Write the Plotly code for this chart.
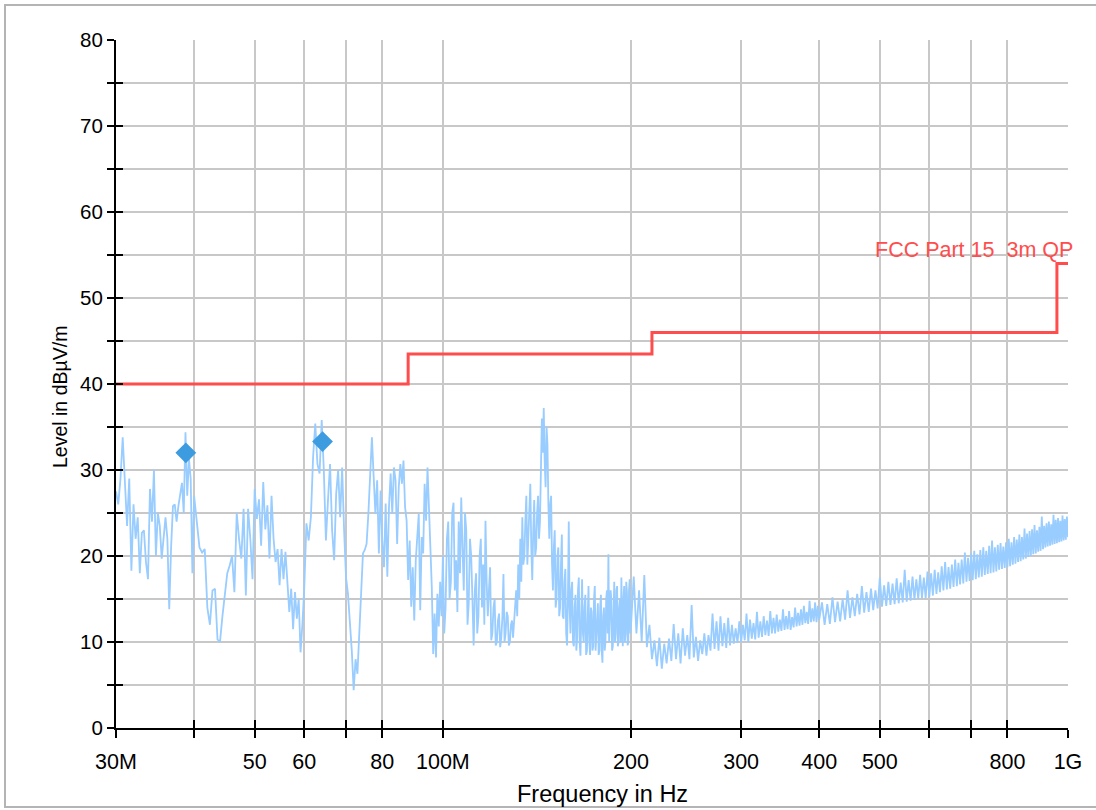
import math
import plotly.graph_objects as go

# ---------------- data ----------------
# measured trace, frequency in MHz, level in dBuV/m
SEG1_MHZ = [30.0, 30.25, 30.5, 30.75, 31.0, 31.25, 31.5, 31.75, 32.0, 32.25, 32.5, 32.75,
            33.0, 33.25, 33.5, 33.75, 34.0, 34.25, 34.5, 34.75, 35.0, 35.25, 35.5, 35.75,
            36.0, 36.25, 36.5, 36.75, 37.0, 37.25, 37.5, 37.75, 38.0, 38.25, 38.5, 38.75,
            39.0, 39.25, 39.5, 39.75, 40.0]
SEG1_DB = [27.5, 26, 29, 33.8, 28.6, 23.5, 29, 18.3, 26, 22, 24.5, 18,
           22.7, 23, 19.3, 17.3, 27.8, 24, 30, 20, 25, 23.5, 19.7, 22,
           24.5, 22, 13.8, 21, 25.8, 26, 24, 25.8, 27.4, 28.5, 25, 34.4,
           27, 31.3, 29, 18, 27]

SEG2_MHZ = [40.4, 40.8, 41.2, 41.6, 42.0, 42.4, 42.8, 43.2, 43.6, 44.0, 44.4, 44.8, 45.2,
            45.6, 46.0, 46.4, 46.8, 47.2, 47.6, 48.0, 48.4, 48.8, 49.2, 49.6, 50.0, 50.4,
            50.8, 51.2, 51.6, 52.0, 52.4, 52.8, 53.2, 53.6, 54.0, 54.4, 54.8, 55.2, 55.6,
            56.0, 56.4, 56.8, 57.2, 57.6, 58.0, 58.4, 58.8, 59.2, 59.6, 60.0]
SEG2_DB = [24, 21, 20.4, 20.8, 14, 12, 16, 16.2, 10.3, 10, 13, 15.8, 18,
           18.9, 20, 15.8, 25, 22, 19.7, 25.5, 15.4, 25.5, 22, 17.3, 27.8, 24.3,
           26.6, 21.2, 28.6, 23.1, 25.9, 19.7, 27, 22, 19.3, 20.8, 16.6, 20.8, 17.3,
           20.5, 16.6, 13.5, 16.2, 11.5, 15.8, 12.7, 15, 8.8, 12, 16]

SEG3_MHZ = [60.5, 61.0, 61.5, 62.0, 62.5, 63.0, 63.5, 64.0, 64.5, 65.0,
            65.5, 66.0, 66.5, 67.0, 67.5, 68.0, 68.5, 69.0, 69.5, 70.0,
            70.5, 71.0, 71.5, 72.0, 72.5, 73.0, 73.5, 74.0, 74.5, 75.0,
            75.5, 76.0, 76.5, 77.0, 77.5, 78.0, 78.5, 79.0, 79.5, 80.0,
            80.5, 81.0, 81.5, 82.0, 82.5, 83.0, 83.5, 84.0, 84.5, 85.0,
            85.5, 86.0, 86.5, 87.0, 87.5, 88.0, 88.5, 89.0, 89.5, 90.0,
            90.5, 91.0, 91.5, 92.0, 92.5, 93.0, 93.5, 94.0, 94.5, 95.0,
            95.5, 96.0, 96.5, 97.0, 97.5, 98.0, 98.5, 99.0, 99.5, 100.0]
SEG3_DB = [23.8, 21.8, 24.5, 31.5, 35.4, 30.7, 29.6, 35.8, 30, 21.8,
           26.5, 30.7, 23, 19.5, 27.2, 30, 24.5, 30.3, 23, 17.5,
           15.6, 12.5, 9, 4.4, 8, 6.3, 11.4, 16.4, 20.3, 20.7,
           21.4, 24.9, 28.8, 33.8, 29.2, 24.9, 28.8, 20.3, 27.6, 21.8,
           18.7, 26.1, 17.6, 25.7, 29.6, 24.9, 30.3, 28.8, 21.4, 28,
           30.7, 28.4, 31.1, 25.7, 24.1, 17.2, 21.8, 14.1, 18.7, 12.5,
           19.5, 22.6, 24.9, 13.7, 22.2, 20.3, 28.4, 24.1, 30.3, 25.7,
           21, 16.4, 8.6, 13.3, 8.2, 15.6, 11.8, 17, 13, 20]

SEG4_MHZ = [100.5, 101, 101.5, 102, 102.5, 103, 103.5, 104, 104.5, 105,
            105.5, 106, 106.5, 107, 107.5, 108, 108.5, 109, 109.5, 110,
            110.5, 111, 111.5, 112, 112.5, 113, 113.5, 114, 114.5, 115,
            115.5, 116, 116.5, 117, 117.5, 118, 118.5, 119, 119.5, 120,
            120.5, 121, 121.5, 122, 122.5, 123, 123.5, 124, 124.5, 125,
            125.5, 126, 126.5, 127, 127.5, 128, 128.5, 129, 129.5, 130,
            130.5, 131, 131.5, 132, 132.5, 133, 133.5, 134, 134.5, 135,
            135.5, 136, 136.5, 137, 137.5, 138, 138.5, 139, 139.5, 140,
            140.5, 141, 141.5, 142, 142.5, 143, 143.5, 144, 144.5, 145,
            145.5, 146, 146.5, 147, 147.5, 148, 148.5, 149, 149.5, 150,
            150.5, 151, 151.5, 152, 152.5, 153, 153.5, 154, 154.5, 155,
            155.5, 156, 156.5, 157, 157.5, 158, 158.5, 159, 159.5, 160,
            160.5, 161, 161.5, 162, 162.5, 163, 163.5, 164, 164.5, 165,
            165.5, 166, 166.5, 167, 167.5, 168, 168.5, 169, 169.5, 170,
            170.5, 171, 171.5, 172, 172.5, 173, 173.5, 174, 174.5, 175,
            175.5, 176, 176.5, 177, 177.5, 178, 178.5, 179, 179.5, 180,
            180.5, 181, 181.5, 182, 182.5, 183, 183.5, 184, 184.5, 185,
            185.5, 186, 186.5, 187, 187.5, 188, 188.5, 189, 189.5, 190,
            190.5, 191, 191.5, 192, 192.5, 193, 193.5, 194, 194.5, 195,
            195.5, 196, 196.5, 197, 197.5, 198, 198.5, 199, 199.5, 200]
SEG4_DB = [11, 14, 22, 24, 15, 17, 25, 26.2, 16, 19.5,
           13.5, 24, 18, 26.8, 21, 16, 25, 23, 12, 14.5,
           22, 20, 15, 9.6, 16, 18, 11, 13, 20, 22,
           14, 19, 12, 24.1, 17, 13, 16, 18.7, 10.2, 11,
           14, 15, 9.6, 10, 12.5, 13.3, 9.4, 10.5, 12.8, 17.9,
           10, 11, 13.5, 13, 9.6, 10, 12, 12.5, 10.5, 12,
           14, 16, 13, 19, 15, 22, 17, 24.5, 19, 20,
           24, 27, 19, 22, 26, 28.4, 21, 17.2, 23, 26.5,
           20, 21, 25, 27, 22, 24, 30, 36, 32, 37.2,
           31, 28, 35, 33, 26, 22, 26, 27, 19, 16,
           21, 23, 14, 15, 20, 21, 13, 14, 19, 22.5,
           13, 12.7, 17, 18.5, 11, 9.6, 15, 24, 14, 11,
           16, 17, 10, 9.5, 14, 15.5, 9, 10.5, 16, 17.5,
           10, 8.4, 13, 17.3, 11, 10, 14, 15.5, 8.5, 9,
           13, 16.5, 10, 8.5, 14, 13.5, 9, 9.5, 15, 16.5,
           9, 10.5, 13, 14.5, 8.5, 9, 14, 15.5, 9, 7.6,
           13, 14, 9, 10, 15, 16, 11, 20.2, 10, 12,
           16, 15, 9, 9.5, 14, 17, 10, 11, 16, 16.5,
           9.5, 10, 14, 15, 10, 17.5, 12, 9.5, 15, 16.5,
           10, 11, 17, 15.8, 9.6, 10, 16, 17.3, 11, 12]

SEG5_MHZ = [202, 204, 206, 208, 210, 212, 214, 216, 218, 220,
            222, 224, 226, 228, 230, 232, 234, 236, 238, 240,
            242, 244, 246, 248, 250, 252, 254, 256, 258, 260,
            262, 264, 266, 268, 270, 272, 274, 276, 278, 280,
            282, 284, 286, 288, 290, 292, 294, 296, 298, 300,
            302, 304, 306, 308, 310, 312, 314, 316, 318, 320,
            322, 324, 326, 328, 330, 332, 334, 336, 338, 340,
            342, 344, 346, 348, 350, 352, 354, 356, 358, 360,
            362, 364, 366, 368, 370, 372, 374, 376, 378, 380,
            382, 384, 386, 388, 390, 392, 394, 396, 398, 400]
SEG5_DB = [17.6, 11, 16, 10, 17.8, 9.4, 12, 8, 10.2, 7.2,
           10.5, 6.9, 9.8, 7.5, 10.4, 7.8, 12.1, 8, 11, 7.5,
           11.6, 8.4, 10.8, 8, 14.3, 8.2, 10.6, 7.8, 10.2, 8.6,
           11, 8.4, 10.8, 9, 13.3, 9.2, 12.4, 9, 13, 9.5,
           12.2, 9.3, 12.8, 9.6, 12, 9.8, 11.6, 9.9, 12.4, 10,
           12, 10.2, 13.3, 10, 12.6, 10.4, 12.2, 10.3, 13.5, 10.5,
           12.4, 10.6, 13, 10.8, 12.5, 10.7, 13.6, 11, 12.8, 11,
           13.2, 11.2, 12.6, 11.3, 13.8, 11.4, 13, 11.5, 13.6, 11.4,
           12.9, 11.7, 14, 11.8, 13.4, 11.9, 13.8, 12, 14.2, 12.2,
           13.5, 12.1, 14.8, 12.3, 13.9, 12.4, 14.6, 12.3, 14.2, 12.6]

SEG6_MHZ = [404, 408, 412, 416, 420, 424, 428, 432, 436, 440,
            444, 448, 452, 456, 460, 464, 468, 472, 476, 480,
            484, 488, 492, 496, 500, 504, 508, 512, 516, 520,
            524, 528, 532, 536, 540, 544, 548, 552, 556, 560,
            564, 568, 572, 576, 580, 584, 588, 592, 596, 600,
            604, 608, 612, 616, 620, 624, 628, 632, 636, 640,
            644, 648, 652, 656, 660, 664, 668, 672, 676, 680,
            684, 688, 692, 696, 700, 704, 708, 712, 716, 720,
            724, 728, 732, 736, 740, 744, 748, 752, 756, 760,
            764, 768, 772, 776, 780, 784, 788, 792, 796, 800,
            804, 808, 812, 816, 820, 824, 828, 832, 836, 840,
            844, 848, 852, 856, 860, 864, 868, 872, 876, 880,
            884, 888, 892, 896, 900, 904, 908, 912, 916, 920,
            924, 928, 932, 936, 940, 944, 948, 952, 956, 960,
            964, 968, 972, 976, 980, 984, 988, 992, 996, 1000]
SEG6_DB = [14.6, 12.0, 14.4, 12.1, 15.2, 12.3, 14.7, 12.4, 15.0, 12.6,
           16.0, 12.8, 15.2, 13.0, 15.6, 13.2, 16.5, 13.4, 15.8, 13.5,
           16.2, 13.7, 16.0, 13.9, 17.5, 14.1, 16.6, 14.2, 17.0, 14.3,
           16.8, 14.4, 17.4, 14.5, 16.9, 14.6, 18.4, 14.7, 17.2, 14.8,
           17.6, 14.9, 17.3, 15.0, 17.8, 15.1, 17.5, 15.1, 18.2, 15.2,
           18.0, 15.4, 18.4, 15.6, 18.1, 15.8, 18.8, 16.0, 19.3, 16.1,
           18.7, 16.2, 19.0, 16.4, 19.6, 16.5, 19.2, 16.7, 19.6, 16.8,
           20.4, 17.0, 19.8, 17.1, 20.3, 17.2, 20.6, 17.3, 20.2, 17.5,
           20.7, 17.6, 21.0, 17.8, 20.6, 17.9, 21.2, 18.0, 21.8, 18.1,
           21.0, 18.2, 21.3, 18.4, 21.5, 18.5, 21.1, 18.6, 21.6, 18.7,
           22.0, 18.8, 21.6, 19.0, 22.2, 19.1, 21.9, 19.3, 22.5, 19.4,
           22.2, 19.6, 23.2, 19.7, 22.6, 19.9, 22.9, 20.0, 23.1, 20.2,
           23.6, 20.3, 23.0, 20.5, 23.4, 20.6, 24.6, 20.8, 23.5, 21.0,
           23.8, 21.1, 24.0, 21.2, 23.7, 21.3, 24.8, 21.4, 24.2, 21.5,
           24.4, 21.6, 24.1, 21.7, 24.7, 21.8, 24.3, 21.9, 24.6, 22.2]

# limit line (FCC Part 15, 3 m, QP)
LIMIT_MHZ = [30, 88, 216, 960, 1000]
LIMIT_DB = [40, 43.5, 46, 54, 54]
LIMIT_NAME = "FCC Part 15\u00a0 3m QP"

# peak markers
PEAK_MHZ = [38.8, 64.2]
PEAK_DB = [32.0, 33.3]

# axis ticks
X_TICKS = [30, 40, 50, 60, 70, 80, 100, 200, 300, 400, 500, 600, 700, 800, 1000]
X_TICKTEXT = ["30M", "", "50", "60", "", "80", "100M", "200", "300", "400", "500", "", "", "800", "1G"]
Y_TICKS = [0, 5, 10, 15, 20, 25, 30, 35, 40, 45, 50, 55, 60, 65, 70, 75, 80]
Y_TICKTEXT = ["0", "", "10", "", "20", "", "30", "", "40", "", "50", "", "60", "", "70", "", "80"]

# ---------------- figure ----------------
freq = SEG1_MHZ + SEG2_MHZ + SEG3_MHZ + SEG4_MHZ + SEG5_MHZ + SEG6_MHZ
level = SEG1_DB + SEG2_DB + SEG3_DB + SEG4_DB + SEG5_DB + SEG6_DB

FONT = "Liberation Sans, Arial, sans-serif"
GRID = "#c8c8c8"
TRACE_C = "#99ccff"
LIMIT_C = "#ff4d4d"
MARK_C = "#3d9be0"

xr = [math.log10(30), math.log10(1000)]
yr = [0, 80]

fig = go.Figure()
fig.add_trace(go.Scatter(x=freq, y=level, mode="lines",
                         line=dict(color=TRACE_C, width=1.8),
                         hoverinfo="skip", showlegend=False))
fig.add_trace(go.Scatter(x=LIMIT_MHZ, y=LIMIT_DB, mode="lines",
                         line=dict(color=LIMIT_C, width=3, shape="hv"),
                         xaxis="x2", yaxis="y2", showlegend=False))
fig.add_trace(go.Scatter(x=PEAK_MHZ, y=PEAK_DB, mode="markers",
                         marker=dict(symbol="diamond", size=16, color=MARK_C),
                         xaxis="x2", yaxis="y2", showlegend=False))

common_x = dict(type="log", range=xr, tickmode="array", tickvals=X_TICKS,
                tickcolor="black", tickwidth=1.5, ticklen=8, zeroline=False)
common_y = dict(range=yr, tickmode="array", tickvals=Y_TICKS,
                tickcolor="black", tickwidth=1.5, ticklen=7, zeroline=False)

fig.update_layout(
    width=1096, height=810,
    margin=dict(l=116, r=28, t=40, b=82),
    paper_bgcolor="white", plot_bgcolor="white",
    font=dict(family=FONT, color="black", size=20),
    xaxis=dict(**common_x, ticktext=X_TICKTEXT, ticks="outside",
               showline=True, linecolor="black", linewidth=2,
               showgrid=True, gridcolor=GRID, gridwidth=1.5,
               tickfont=dict(size=21.5), ticklabelstandoff=5),
    yaxis=dict(**common_y, ticktext=Y_TICKTEXT, ticks="outside",
               showline=True, linecolor="black", linewidth=2,
               showgrid=True, gridcolor=GRID, gridwidth=1.5,
               tickfont=dict(size=20.5), ticklabelstandoff=0),
    xaxis2=dict(**common_x, overlaying="x", anchor="y2", side="bottom",
                ticks="inside", showticklabels=False, showgrid=False, showline=False),
    yaxis2=dict(**common_y, overlaying="y", anchor="x2", side="left",
                ticks="inside", showticklabels=False, showgrid=False, showline=False),
    annotations=[
        dict(text=LIMIT_NAME, xref="paper", yref="y", x=(1075 - 116) / 952, y=54,
             xanchor="right", yanchor="bottom", showarrow=False,
             font=dict(size=21.5, color=LIMIT_C, family=FONT)),
        dict(text="Frequency in Hz", xref="paper", yref="paper",
             x=(602 - 116) / 952, y=(728 - 794) / 688,
             xanchor="center", yanchor="middle", showarrow=False,
             font=dict(size=23.5, color="black", family=FONT)),
        dict(text="Level in dBµV/m", xref="paper", yref="paper",
             x=(60 - 116) / 952, y=(728 - 397) / 688, textangle=-90,
             xanchor="center", yanchor="middle", showarrow=False,
             font=dict(size=19.5, color="black", family=FONT)),
    ],
    shapes=[
        dict(type="rect", xref="paper", yref="paper",
             x0=(5 - 116) / 952, x1=(1100 - 116) / 952,
             y0=(728 - 807) / 688, y1=(728 - 5) / 688,
             line=dict(color="#b4b4b4", width=2), fillcolor="rgba(0,0,0,0)", layer="below"),
    ],
)

fig.write_html("out.html",
               config={"displayModeBar": False},
               post_script="document.body.style.margin='0px';"
                           "document.documentElement.style.overflow='hidden';")
